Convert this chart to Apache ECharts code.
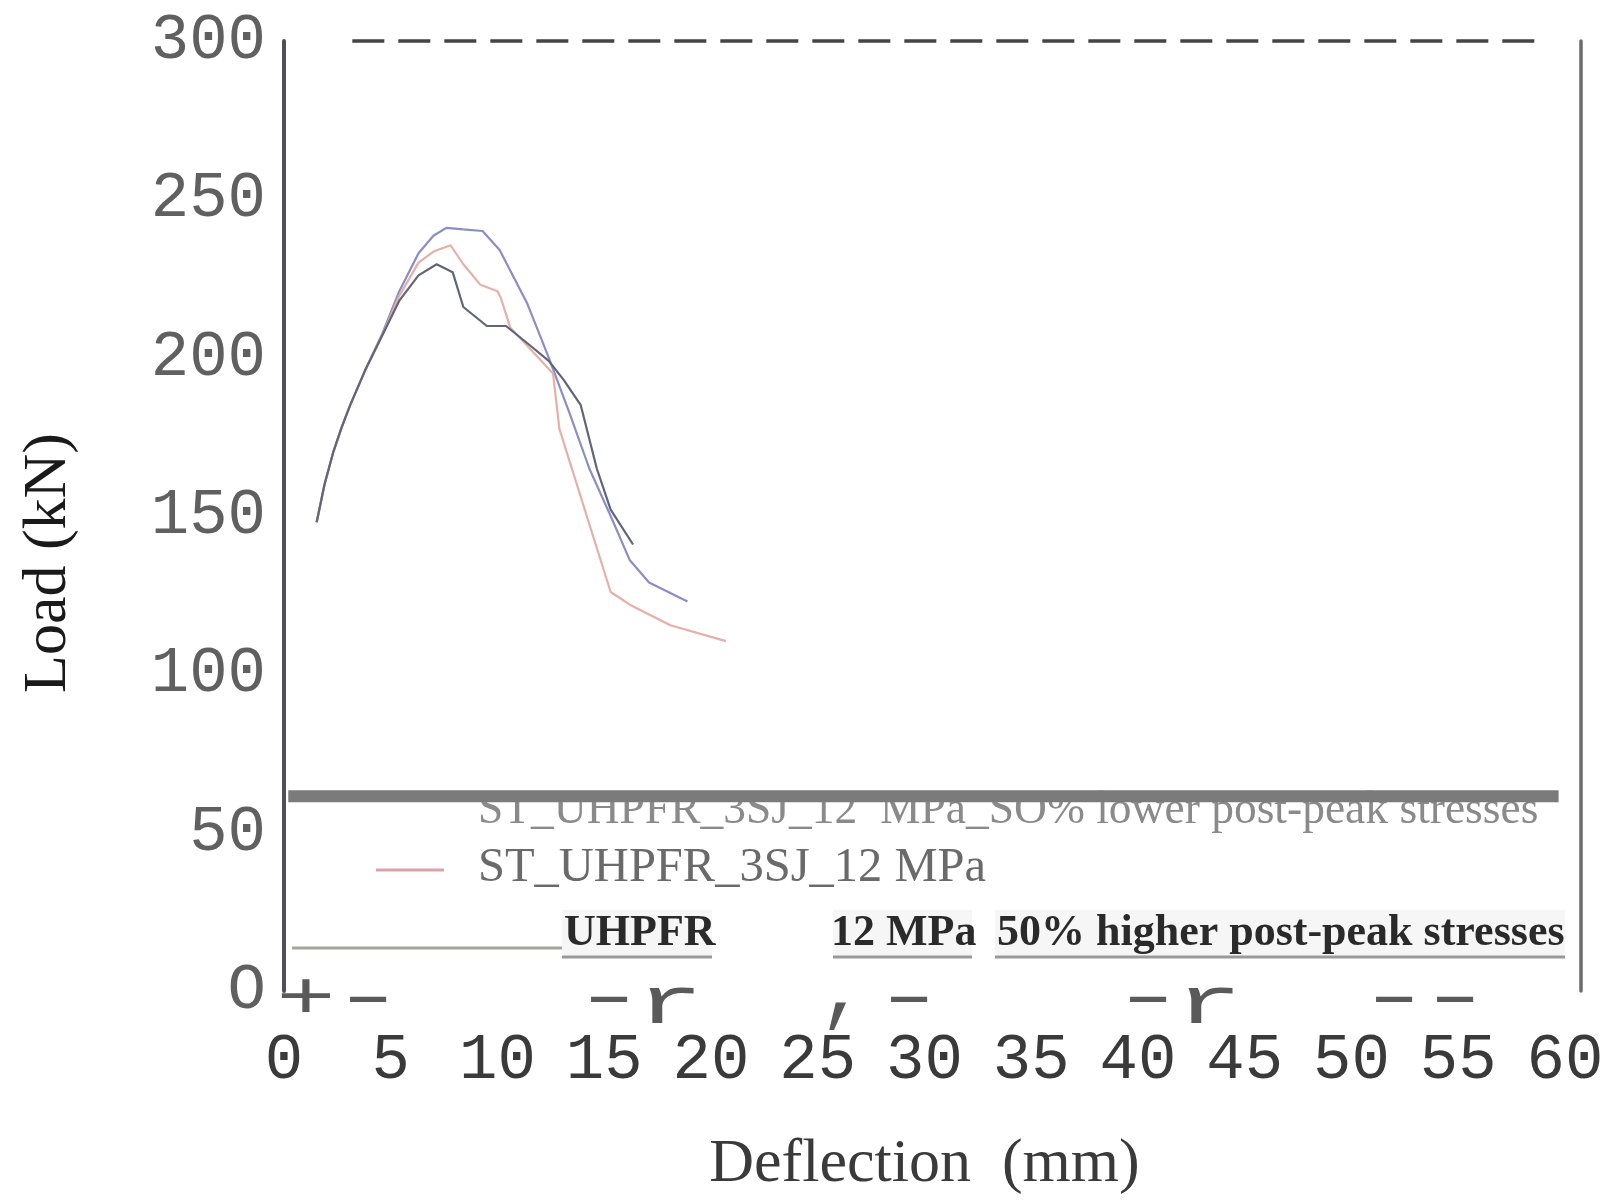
<!DOCTYPE html>
<html><head><meta charset="utf-8">
<script src="https://cdn.jsdelivr.net/npm/echarts@6/dist/echarts.min.js"></script>
<style>html,body{margin:0;padding:0;background:#fff}#c{width:1607px;height:1201px}</style>
</head><body><div id="c"></div>
<script>
// ---- data ----
const xTickLabels = ['0','5','10','15','20','25','30','35','40','45','50','55','60'];
const yTickLabels = ['O','50','100','150','200','250','300'];

const seriesNames = [
  'ST_UHPFR_3SJ_12 MPa_50% higher post-peak stresses',
  'ST_UHPFR_3SJ_12 MPa',
  'ST_UHPFR_3SJ_12 MPa_50% lower post-peak stresses'
];

const higherDeflection = [1.53,1.9,2.3,2.7,3.1,3.8,4.6,5.4,6.3,7.0,7.6,8.4,9.3,10.1,11.4,12.4,13.4,14.3,15.3,16.2,17.1,18.9];
const higherLoad       = [148,160,170,178,185,196,207.5,221,233,238.5,241,240.5,240,234,217,200,182,165,150,136,129,123];

const baseDeflection = [1.53,1.9,2.3,2.7,3.1,3.8,4.6,5.4,6.3,7.0,7.8,8.4,9.2,10.0,10.15,10.6,12.6,12.9,15.3,16.2,18.1,20.7];
const baseLoad       = [148,160,170,178,185,196,207,219.5,230,233.5,235.5,229.5,223,221,219,209.5,195,177.5,126,122,115.5,110.5];

const lowerDeflection = [1.53,1.9,2.3,2.7,3.1,3.8,4.6,5.4,6.3,7.15,7.9,8.4,9.5,10.4,11.5,12.4,13.1,13.9,14.65,15.3,16.35];
const lowerLoad       = [148,160,170,178,185,196,207,218,226,229.5,227,216,210,210,204,199,193,185,165,152,141];

const dashLineX = [3.2, 58.9];
const dashLineLoad = 300;
const barLineX = [0.2, 59.7];
const barLineLoad = 61.5;

const legendTexts = [
  'ST_UHPFR_3SJ_12  MPa_SO% lower post-peak stresses',
  'ST_UHPFR_3SJ_12 MPa',
  'UHPFR', '12 MPa', '50% higher post-peak stresses'
];
const baselineGlyphs = ['+','-','-','r',',','-','-','r','-','-'];

// ---- build ----
const pair = (xs, ys) => xs.map((x, i) => [x, ys[i]]);
const chart = echarts.init(document.getElementById('c'), null, {renderer: 'canvas'});

const glyphPos = [[306,1001],[368,1000],[609,1000],[670,1006],[843,992],[909,1000],[1148,1000],[1209,1006],[1394,1000],[1455,1000]];
const glyphScale = {'+': 1.5, '-': 2.0, 'r': 1.7, ',': 1.2};

const graphics = [];
baselineGlyphs.forEach((g, i) => {
  graphics.push({type:'text', z: 1, x: glyphPos[i][0], y: glyphPos[i][1],
    scaleX: glyphScale[g], scaleY: g === ',' ? 1.3 : 1,
    style:{text:g, font:'66px "Liberation Mono"', fill:'#5a5a5a', align:'center', verticalAlign:'middle'}});
});
graphics.push(
  {type:'text', z:1, x:478, y:811, style:{text:legendTexts[0], font:'45.5px "Liberation Serif"', fill:'#8a8a8a', verticalAlign:'middle'}},
  {type:'line', z:1, shape:{x1:376,y1:870,x2:444,y2:870}, style:{stroke:'#d9a3ad', lineWidth:3}},
  {type:'text', z:1, x:478, y:868, style:{text:legendTexts[1], font:'48.5px "Liberation Serif"', fill:'#6a6a6a', verticalAlign:'middle'}},
  {type:'line', z:1, shape:{x1:292,y1:948,x2:564,y2:948}, style:{stroke:'#a4a596', lineWidth:3}},
  {type:'rect', z:1, shape:{x:562,y:910,width:150,height:46}, style:{fill:'#f6f6f6'}},
  {type:'rect', z:1, shape:{x:833,y:910,width:139,height:46}, style:{fill:'#f6f6f6'}},
  {type:'rect', z:1, shape:{x:995,y:910,width:570,height:46}, style:{fill:'#f6f6f6'}},
  {type:'line', z:1, shape:{x1:562,y1:957,x2:712,y2:957}, style:{stroke:'#9a9a9a', lineWidth:3}},
  {type:'line', z:1, shape:{x1:833,y1:957,x2:972,y2:957}, style:{stroke:'#9a9a9a', lineWidth:3}},
  {type:'line', z:1, shape:{x1:995,y1:957,x2:1565,y2:957}, style:{stroke:'#9a9a9a', lineWidth:3}},
  {type:'text', z:2, x:564, y:934, style:{text:legendTexts[2], font:'bold 44px "Liberation Serif"', fill:'#2a2a2a', verticalAlign:'middle'}},
  {type:'text', z:2, x:831, y:934, style:{text:legendTexts[3], font:'bold 44px "Liberation Serif"', fill:'#2a2a2a', verticalAlign:'middle'}},
  {type:'text', z:2, x:997, y:934, style:{text:legendTexts[4], font:'bold 44px "Liberation Serif"', fill:'#2a2a2a', verticalAlign:'middle'}}
);

const option = {
  backgroundColor: '#fff',
  animation: false,
  grid: {left: 284, right: 42, top: 41, bottom: 203, containLabel: false},
  xAxis: {
    type: 'value', min: 0, max: 60, interval: 5,
    name: 'Deflection  (mm)', nameLocation: 'middle', nameGap: 143,
    nameTextStyle: {fontFamily: 'Liberation Serif', fontSize: 62, color: '#3a3a3a'},
    axisLine: {show: false}, axisTick: {show: false}, splitLine: {show: false},
    axisLabel: {fontFamily: 'Liberation Mono', fontSize: 64, color: '#3a3a3a', margin: 38,
      formatter: v => xTickLabels[Math.round(v / 5)]}
  },
  yAxis: [{
    type: 'value', min: 0, max: 300, interval: 50, offset: 6,
    name: 'Load (kN)', nameLocation: 'middle', nameGap: 198, nameRotate: 90,
    nameTextStyle: {fontFamily: 'Liberation Serif', fontSize: 62, color: '#1a1a1a', padding: [0, 94, 0, 0]},
    axisLine: {show: true, lineStyle: {color: '#50505c', width: 4}},
    axisTick: {show: false}, splitLine: {show: false},
    axisLabel: {fontFamily: 'Liberation Mono', fontSize: 64, color: '#606060', margin: 12,
      formatter: v => yTickLabels[Math.round(v / 50)]}
  }, {
    type: 'value', min: 0, max: 300, interval: 50, position: 'right', offset: 16,
    axisLine: {show: true, lineStyle: {color: '#6b6b6b', width: 3.5}},
    axisTick: {show: false}, splitLine: {show: false}, axisLabel: {show: false}
  }],
  graphic: graphics,
  series: [
    {name: seriesNames[0], type: 'line', data: pair(higherDeflection, higherLoad), showSymbol: false,
      lineStyle: {color: '#8b8ec6', width: 2.2}, z: 3},
    {name: seriesNames[1], type: 'line', data: pair(baseDeflection, baseLoad), showSymbol: false,
      lineStyle: {color: '#e6b0a6', width: 2.2}, z: 3},
    {name: seriesNames[2], type: 'line', data: pair(lowerDeflection, lowerLoad), showSymbol: false,
      lineStyle: {color: '#62657a', width: 2.2}, z: 3},
    {name: 'dash', type: 'line', data: dashLineX.map(x => [x, dashLineLoad]), showSymbol: false, clip: false,
      lineStyle: {color: '#444', width: 3.5, type: [32, 14]}, z: 3},
    {name: 'bar', type: 'line', data: barLineX.map(x => [x, barLineLoad]), showSymbol: false, clip: false,
      lineStyle: {color: '#7b7b7b', width: 12}, z: 5}
  ]
};
chart.setOption(option);
</script></body></html>
